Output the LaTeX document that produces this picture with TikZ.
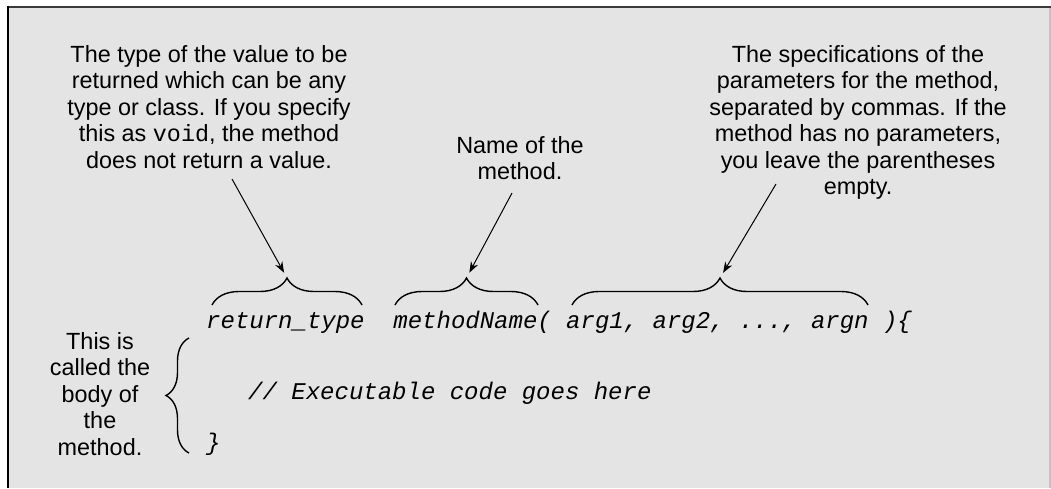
\documentclass[tikz,border=0pt]{standalone}
\usepackage{fontspec}
\setmainfont{Liberation Sans}
\setmonofont{Liberation Mono}
\usetikzlibrary{decorations.pathreplacing,arrows.meta}
\definecolor{panel}{HTML}{E4E4E4}
\definecolor{topline}{HTML}{3A3A3A}
\definecolor{rightline}{HTML}{C4C4C4}
\begin{document}
\begin{tikzpicture}[x=1pt,y=-1pt,
  note/.style={font=\fontsize{23.4}{26.5}\selectfont, align=center, inner sep=0pt, anchor=north},
  code/.style={font=\fontsize{24}{26}\selectfont\ttfamily\itshape, inner sep=0pt, anchor=base west},
  brc/.style={decorate, decoration={brace, amplitude=#1}, line width=1.4pt},
  arr/.style={-{Stealth[length=11pt,width=8pt]}, line width=1pt, shorten >=6pt}]
\useasboundingbox (0,0) rectangle (1051,488);
\fill[white] (0,0) rectangle (1051,488);
\fill[panel] (8,8) rectangle (1049,488);
\draw[line width=2pt, topline] (7,7) -- (1051,7);
\draw[line width=1.8pt, black] (7.6,6) -- (7.6,488);
\draw[line width=2pt, rightline] (1050,8) -- (1050,488);

% annotation texts
\node[note] (ltext) at (209,45) {The type of the value to be\\returned which can be any\\type or class. If you specify\\this as {\ttfamily void}, the method\\does not return a value.};
\node[note] (mtext) at (520,136) {Name of the\\method.};
\node[note] (rtext) at (858,45) {The specifications of the\\parameters for the method,\\separated by commas. If the\\method has no parameters,\\you leave the parentheses\\empty.};
\node[note] (btext) at (100,332) {This is\\called the\\body of\\the\\method.};

% code
\node[code] (sig) at (206,328) {return\_type\ \ methodName(\ arg1,\ arg2,\ ...,\ argn\ )\{};
\node[code] (body) at (248,399) {//\ Executable\ code\ goes\ here};
\node[code] (close) at (206,450) {\}};

% braces
\coordinate (b1l) at (212,305); \coordinate (b1r) at (362,305); \coordinate (t1) at (287,278);
\coordinate (b2l) at (395,305); \coordinate (b2r) at (538,305); \coordinate (t2) at (466.5,278);
\coordinate (b3l) at (572,305); \coordinate (b3r) at (868,305); \coordinate (t3) at (720,278);
\coordinate (b4b) at (189,453); \coordinate (b4t) at (189,338);
\draw[brc=27pt] (b1l) -- (b1r);
\draw[brc=27pt] (b2l) -- (b2r);
\draw[brc=27pt] (b3l) -- (b3r);
\draw[brc=23pt] (b4b) -- (b4t);

% arrows
\coordinate (s1) at (232,179);
\coordinate (s2) at (512,193);
\coordinate (s3) at (776,184);
\draw[arr] (s1) -- (t1);
\draw[arr] (s2) -- (t2);
\draw[arr] (s3) -- (t3);
\end{tikzpicture}
\end{document}
